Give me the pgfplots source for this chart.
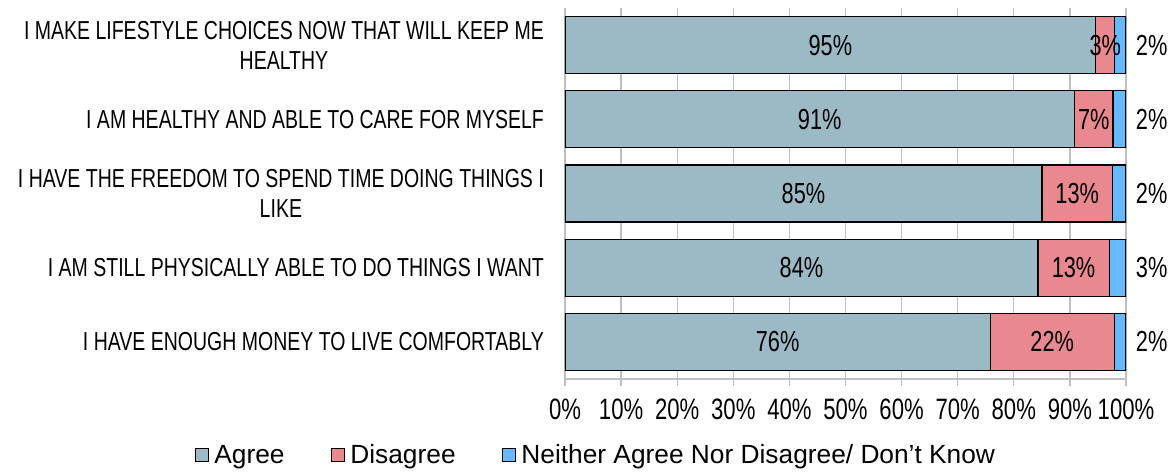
\documentclass[border=0pt]{standalone}
\usepackage{pgfplots}
\usepackage{pgfplotstable}
\pgfplotsset{compat=1.18}
\usepackage{fontspec}
\setmainfont{Liberation Sans}
\newfontfamily\narrowfont[FakeStretch=0.75]{Liberation Sans}
\definecolor{cagree}{HTML}{9BBAC6}
\definecolor{cdis}{HTML}{E9888F}
\definecolor{cneither}{HTML}{66B8FF}
\definecolor{cgrid}{HTML}{BFBFBF}
\pgfplotstableread{
idx agree dis neither
0 94.6 3.4 2.0
1 90.8 6.9 2.3
2 85.0 12.6 2.4
3 84.3 12.7 3.0
4 75.8 22.1 2.1
}\datatable
\begin{document}
\begin{tikzpicture}[x=1pt,y=1pt]
\useasboundingbox (0,0) rectangle (1168,472);
\begin{axis}[
  at={(565pt,93pt)}, anchor=south west,
  scale only axis, width=561pt, height=371pt,
  xbar stacked, bar width=57pt,
  xmin=0, xmax=100, ymin=-0.5, ymax=4.5, y dir=reverse,
  enlargelimits=false,
  axis x line*=bottom, axis y line*=left,
  axis line style={cgrid, line width=1.3pt},
  /pgf/number format/assume math mode=true,
  tick align=outside,
  major tick length=7pt, minor tick length=7pt,
  xtick={0,10,...,100},
  xticklabel={\pgfmathprintnumber{\tick}\%},
  xtick style={cgrid, line width=1.3pt},
  xticklabel style={font=\narrowfont\fontsize{29.5}{32}\selectfont, inner sep=0pt, yshift=-13pt},
  xmajorgrids, grid style={cgrid, line width=1.3pt},
  ytick={0,...,4},
  ytick style={draw=none},
  minor ytick={-0.5,0.5,...,4.5},
  minor y tick style={cgrid, line width=1.3pt},
  yticklabels={{I MAKE LIFESTYLE CHOICES NOW THAT WILL KEEP ME\\HEALTHY},
    {I AM HEALTHY AND ABLE TO CARE FOR MYSELF},
    {I HAVE THE FREEDOM TO SPEND TIME DOING THINGS I\\LIKE},
    {I AM STILL PHYSICALLY ABLE TO DO THINGS I WANT},
    {I HAVE ENOUGH MONEY TO LIVE COMFORTABLY}},
  yticklabel style={font=\narrowfont\fontsize{26}{30}\selectfont, align=center, inner sep=0pt, xshift=-14pt},
  every axis plot/.append style={draw=black, line width=1.3pt},
  legend style={at={(0.055,0)}, anchor=center, yshift=-76pt, draw=none,
    legend columns=3, font=\fontsize{26.3}{30}\selectfont,
    /tikz/every odd column/.append style={column sep=3pt},
    /tikz/every even column/.append style={column sep=44pt},
    nodes={inner sep=2pt}},
  legend image code/.code={\draw[#1, draw=black, line width=1.2pt] (0pt,-6.8pt) rectangle (13.6pt,6.8pt);},
  every node near coord/.append style={font=\narrowfont\fontsize{29}{32}\selectfont, text=black},
  nodes near coords={\pgfmathprintnumber[fixed,precision=0]{\pgfplotspointmeta}\%},
]
\addplot[fill=cagree, point meta=explicit,
  every node near coord/.append style={anchor=center}]
  table[x=agree, y=idx, meta=agree] {\datatable};
\addplot[fill=cdis, point meta=explicit,
  every node near coord/.append style={anchor=center}]
  table[x=dis, y=idx, meta=dis] {\datatable};
\addplot[fill=cneither, point meta=explicit,
  visualization depends on={\thisrow{neither} \as \rawx},
  every node near coord/.append style={anchor=west, shift={(axis direction cs:\rawx/2,0)}, xshift=6pt}]
  table[x=neither, y=idx, meta=neither] {\datatable};
\legend{Agree, Disagree, Neither Agree Nor Disagree/ Don't Know}
\end{axis}
\end{tikzpicture}
\end{document}
